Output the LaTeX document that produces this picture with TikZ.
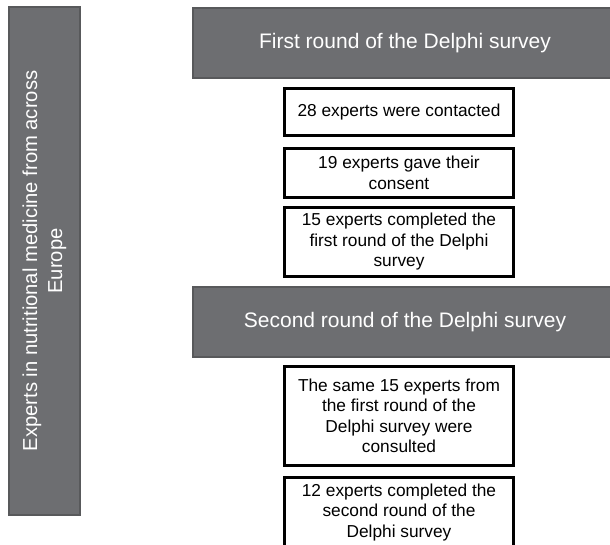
\documentclass[tikz,border=0pt]{standalone}
\usepackage{fontspec}
\setmainfont{Liberation Sans}
\usepackage{xcolor}
\definecolor{headgray}{HTML}{6D6E71}
\definecolor{edgegray}{HTML}{58595B}
\usetikzlibrary{math}

\begin{document}
\begin{tikzpicture}[x=1pt,y=-1pt,
    header/.style={draw=edgegray, line width=2pt, fill=headgray, text=white, inner sep=0pt, align=center, font=\fontsize{21}{25}\selectfont},
    stepbox/.style={draw=black, line width=3pt, fill=white, inner sep=0pt, minimum width=229pt, align=center, font=\fontsize{17.3}{20.5}\selectfont}]
  \tikzmath{\xb = 399; \xh = 405;}
  \useasboundingbox (0,0) rectangle (610,545);
  \clip (0,0) rectangle (610,545);
  \node[header, rotate=90, minimum width=508pt, minimum height=71pt, font=\fontsize{20.2}{25}\selectfont] (experts) at (44.5,261) {Experts in nutritional medicine from across\\Europe};
  \node[header, minimum width=424pt, minimum height=70pt] (round1) at (\xh,43) {First round of the Delphi survey};
  \node[stepbox, minimum height=47pt] (contacted) at (\xb,112) {28 experts were contacted};
  \node[stepbox, minimum height=49pt] (consent) at (\xb,173) {19 experts gave their\\consent};
  \node[stepbox, minimum height=69pt] (done1) at (\xb,242) {15 experts completed the\\first round of the Delphi\\survey};
  \node[header, minimum width=424pt, minimum height=70pt] (round2) at (\xh,322) {Second round of the Delphi survey};
  \node[stepbox, minimum height=99pt] (consulted) at (\xb,416) {The same 15 experts from\\the first round of the\\Delphi survey were\\consulted};
  \node[stepbox, minimum height=70pt] (done2) at (\xb,512.5) {12 experts completed the\\second round of the\\Delphi survey};
\end{tikzpicture}
\end{document}
